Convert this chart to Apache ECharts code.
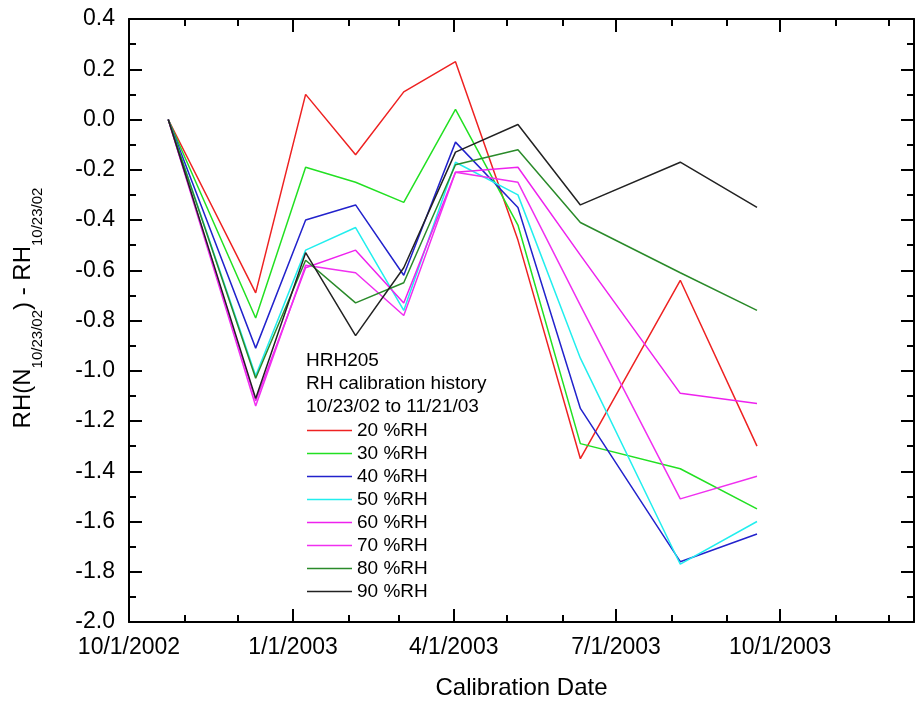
<!DOCTYPE html>
<html>
<head>
<meta charset="utf-8">
<title>HRH205 RH calibration history</title>
<script src="https://cdn.jsdelivr.net/npm/echarts@6/dist/echarts.min.js"></script>
<style>
  html, body { margin: 0; padding: 0; background: #fff; }
  #chart { width: 916px; height: 705px; }
</style>
</head>
<body>
<div id="chart"></div>
<script>
// Calibration run dates; the first run (10/23/02) is the reference, so all offsets start at 0.
const calibrationDates = ['2002-10-23', '2002-12-11', '2003-01-08', '2003-02-05', '2003-03-04',
                          '2003-04-02', '2003-05-07', '2003-06-11', '2003-08-06', '2003-09-18'];

// RH offset relative to the 10/23/02 calibration, one list per humidity set point
const rh20 = [0, -0.69,  0.10, -0.14,  0.11,  0.23, -0.48, -1.35, -0.64, -1.30];
const rh30 = [0, -0.79, -0.19, -0.25, -0.33,  0.04, -0.42, -1.29, -1.39, -1.55];
const rh40 = [0, -0.91, -0.40, -0.34, -0.62, -0.09, -0.35, -1.15, -1.76, -1.65];
const rh50 = [0, -1.02, -0.52, -0.43, -0.76, -0.17, -0.30, -0.95, -1.77, -1.60];
const rh60 = [0, -1.12, -0.59, -0.52, -0.73, -0.21, -0.19, -0.54, -1.09, -1.13];
const rh70 = [0, -1.14, -0.58, -0.61, -0.78, -0.21, -0.25, -0.74, -1.51, -1.42];
const rh80 = [0, -1.03, -0.56, -0.73, -0.65, -0.18, -0.12, -0.41, -0.61, -0.76];
const rh90 = [0, -1.11, -0.53, -0.86, -0.59, -0.13, -0.02, -0.34, -0.17, -0.35];

const seriesNames  = ['20 %RH', '30 %RH', '40 %RH', '50 %RH', '60 %RH', '70 %RH', '80 %RH', '90 %RH'];
const seriesValues = [rh20, rh30, rh40, rh50, rh60, rh70, rh80, rh90];
const seriesColors = ['#ee2222', '#22e022', '#2222cc', '#22eeee', '#ee22ee', '#f030f0', '#2a8a2a', '#222222'];

// Date axis: labelled quarter ticks, plus monthly minor ticks
const xMajorTickDates = ['2002-10-01', '2003-01-01', '2003-04-01', '2003-07-01', '2003-10-01'];
const xTickLabels     = ['10/1/2002', '1/1/2003', '4/1/2003', '7/1/2003', '10/1/2003'];
const xMinorTickDates = ['2002-11-01', '2002-12-01', '2003-02-01', '2003-03-01', '2003-05-01',
                         '2003-06-01', '2003-08-01', '2003-09-01', '2003-11-01', '2003-12-01'];
const xRange = ['2002-10-01', '2003-12-15'];

const yRange = [-2.0, 0.4];
const yStep = 0.2;

const FONT = "'Liberation Sans', Arial, Helvetica, sans-serif";

function ts(s) {
  const p = s.split('-').map(Number);
  return new Date(p[0], p[1] - 1, p[2]).getTime();
}

const majorTs = xMajorTickDates.map(ts);
const minorTs = xMinorTickDates.map(ts);
const xMin = ts(xRange[0]);
const xMax = ts(xRange[1]);

function xLabel(v) {
  const i = majorTs.indexOf(v);
  return i >= 0 ? xTickLabels[i] : '';
}

function frameLine(show) {
  return { show: show, onZero: false, lineStyle: { color: '#000', width: 2 } };
}

function xAxisDef(position, tickValues, tickLen, withLine, withLabels) {
  const ax = {
    type: 'value',
    position: position,
    min: xMin,
    max: xMax,
    axisLine: frameLine(withLine),
    axisTick: { show: true, inside: true, length: tickLen, customValues: tickValues,
                lineStyle: { color: '#000', width: 2 } },
    axisLabel: { show: false },
    splitLine: { show: false }
  };
  if (withLabels) {
    ax.axisLabel = { show: true, customValues: tickValues, formatter: xLabel,
                     fontSize: 23, color: '#000', fontFamily: FONT, margin: 14 };
    ax.name = 'Calibration Date';
    ax.nameLocation = 'middle';
    ax.nameGap = 54;
    ax.nameTextStyle = { fontSize: 24, color: '#000', fontFamily: FONT };
  }
  return ax;
}

function yAxisDef(position, withLabels) {
  return {
    type: 'value',
    position: position,
    min: yRange[0],
    max: yRange[1],
    interval: yStep,
    axisLine: frameLine(true),
    axisTick: { show: true, inside: true, length: 13, lineStyle: { color: '#000', width: 2 } },
    minorTick: { show: true, splitNumber: 2, length: 7, lineStyle: { color: '#000', width: 2 } },
    axisLabel: withLabels ? {
      show: true, fontSize: 23, color: '#000', fontFamily: FONT, margin: 14,
      formatter: function (v) { return Math.abs(v) < 1e-9 ? '0.0' : v.toFixed(1); }
    } : { show: false },
    splitLine: { show: false },
    minorSplitLine: { show: false }
  };
}

const chart = echarts.init(document.getElementById('chart'), null, { renderer: 'canvas' });

chart.setOption({
  animation: false,
  backgroundColor: '#fff',
  grid: { left: 129, right: 2, top: 19, bottom: 82, containLabel: false },
  title: {
    text: 'HRH205\nRH calibration history\n10/23/02 to 11/21/03',
    left: 306,
    top: 349,
    padding: 0,
    textStyle: { fontSize: 19, fontWeight: 'normal', color: '#000', fontFamily: FONT, lineHeight: 23 }
  },
  legend: {
    data: seriesNames,
    orient: 'vertical',
    left: 307,
    top: 421,
    padding: 0,
    icon: 'rect',
    itemWidth: 45,
    itemHeight: 1.5,
    itemGap: 4,
    selectedMode: false,
    textStyle: { fontSize: 19, color: '#000', fontFamily: FONT }
  },
  xAxis: [
    xAxisDef('bottom', majorTs, 13, true, true),
    xAxisDef('bottom', minorTs, 7, false, false),
    xAxisDef('top', majorTs, 13, true, false),
    xAxisDef('top', minorTs, 7, false, false)
  ],
  yAxis: [
    yAxisDef('left', true),
    yAxisDef('right', false)
  ],
  graphic: [{
    type: 'text',
    x: 23,
    y: 308,
    rotation: Math.PI / 2,
    style: {
      text: '{m|RH(N}{s|10/23/02}{m|) - RH}{s|10/23/02}',
      align: 'center',
      verticalAlign: 'middle',
      fill: '#000',
      rich: {
        m: { fontSize: 24, fontFamily: FONT, fill: '#000', lineHeight: 24, verticalAlign: 'top' },
        s: { fontSize: 15, fontFamily: FONT, fill: '#000', lineHeight: 15, verticalAlign: 'top', padding: [19, 0, 0, 0] }
      }
    }
  }],
  series: seriesNames.map(function (name, k) {
    return {
      name: name,
      type: 'line',
      xAxisIndex: 0,
      yAxisIndex: 0,
      symbol: 'none',
      color: seriesColors[k],
      lineStyle: { color: seriesColors[k], width: 1.5 },
      data: calibrationDates.map(function (d, i) { return [ts(d), seriesValues[k][i]]; })
    };
  })
});
</script>
</body>
</html>
